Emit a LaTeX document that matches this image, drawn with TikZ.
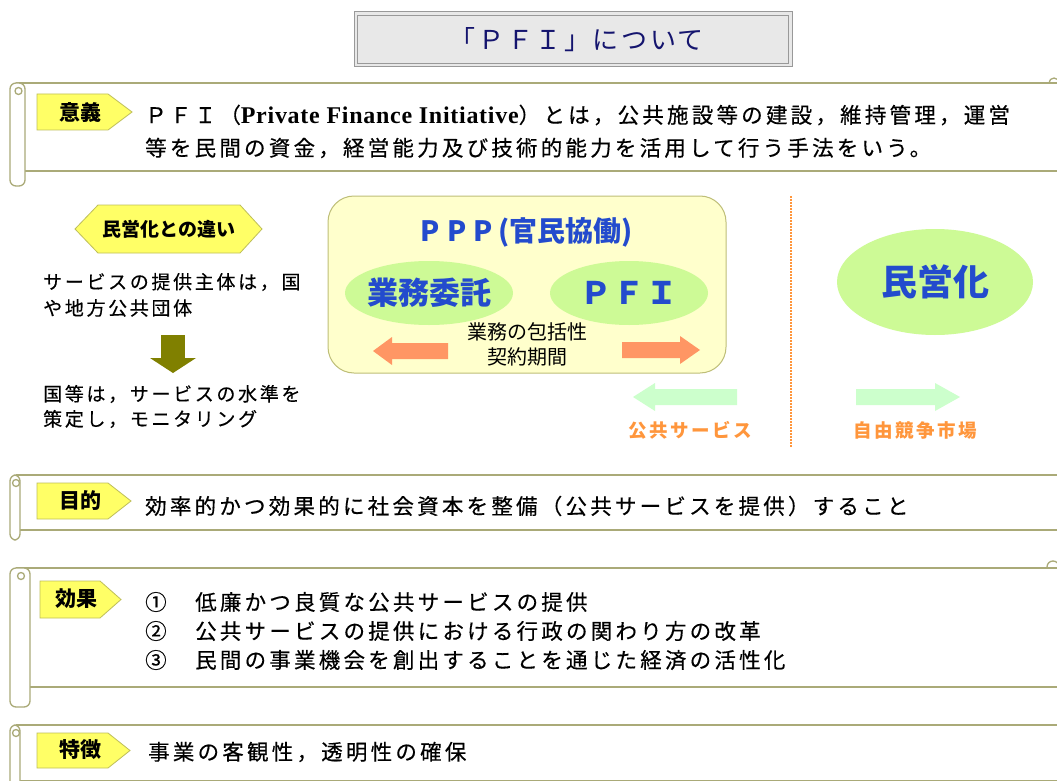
\documentclass[tikz,border=0pt]{standalone}
\usepackage{fontspec}
\setmainfont{Noto Sans CJK JP}
\newfontfamily\jp{Noto Sans CJK JP}[LetterSpace=15, FakeBold=0.4]
\newfontfamily\jpm{Noto Sans CJK JP}[LetterSpace=10]
\newfontfamily\jps{Noto Sans CJK JP}[LetterSpace=14, FakeBold=0.3]
\newfontfamily\jpo{Noto Sans CJK JP}[LetterSpace=13]
\newfontfamily\jpn{Noto Sans CJK JP}
\newfontfamily\lser{Liberation Serif}[LetterSpace=3]
\usetikzlibrary{shapes.geometric}
\definecolor{scrollc}{RGB}{170,170,120}
\definecolor{lab}{RGB}{255,255,102}
\definecolor{labd}{RGB}{190,190,90}
\definecolor{ttl}{RGB}{20,20,110}
\definecolor{pblue}{RGB}{35,75,205}
\definecolor{grn}{RGB}{205,250,150}
\definecolor{pppf}{RGB}{255,255,204}
\definecolor{pppd}{RGB}{190,190,120}
\definecolor{orar}{RGB}{255,150,100}
\definecolor{lgr}{RGB}{204,255,204}
\definecolor{otx}{RGB}{255,150,60}
\definecolor{olv}{RGB}{128,128,0}
\newcommand{\myscroll}[5]{%
  \draw[scrollline] (#1+6,#3) -- (1070,#3);
  \draw[scrollline] (#2,#4) -- (1070,#4);
  \draw[scrollline, fill=white, rounded corners=6] (#1,#3) rectangle (#2,#5);
  \draw[scrollline] ({(#1+#2)/2+1},{#3+8}) circle (3.5);
}
\begin{document}
\begin{tikzpicture}[x=1pt,y=-1pt,
  scrollline/.style={draw=scrollc, line width=1.3pt},
  labbox/.style={draw=labd, fill=lab, line width=0.8pt},
  labtxt/.style={inner sep=0, font=\jpn\bfseries\fontsize{21}{24}\selectfont},
  body/.style={anchor=west, inner sep=0, font=\jp\fontsize{21.5}{24}\selectfont},
  small/.style={anchor=west, inner sep=0, font=\jps\fontsize{19}{22}\selectfont},
  bluet/.style={inner sep=0, text=pblue},
  ell/.style={ellipse, fill=grn, draw=none, inner sep=0},
  otext/.style={inner sep=0, text=otx, font=\jpo\bfseries\fontsize{18.5}{20}\selectfont}
]
\useasboundingbox (0,0) rectangle (1057,781);
\clip (0,0) rectangle (1057,781);
\fill[white] (0,0) rectangle (1057,781);

% title
\draw[draw=gray!80, fill=black!9, line width=1pt] (354,12) rectangle (792,67);
\draw[draw=gray!80, line width=1pt] (357.5,15.5) rectangle (788.5,63.5);
\node[inner sep=0, text=ttl, font=\jpm\fontsize{26}{28}\selectfont] (title) at (577,40) {「ＰＦＩ」について};

% scrolls
\myscroll{10}{25}{83}{171}{186}
\draw[scrollline] (1049,83) arc[start angle=180,end angle=360,radius=5];
\myscroll{10}{20}{475}{530}{540}
\myscroll{10}{30}{568}{687}{707}
\draw[scrollline] (1047,567) arc[start angle=180,end angle=360,radius=6];
\myscroll{10}{20}{725}{781}{800}

% labels
\draw[labbox] (37,94) -- (108,94) -- (132,112) -- (108,130) -- (37,130) -- cycle;
\node[labtxt] (l1) at (80,112) {意義};
\draw[labbox] (37,483) -- (108,483) -- (131,501) -- (108,519) -- (37,519) -- cycle;
\node[labtxt] (l2) at (80,501) {目的};
\draw[labbox] (40,581) -- (100,581) -- (121,599.5) -- (100,618) -- (40,618) -- cycle;
\node[labtxt] (l3) at (76,599) {効果};
\draw[labbox] (37,733) -- (108,733) -- (130,750.5) -- (108,768) -- (37,768) -- cycle;
\node[labtxt] (l4) at (80,750) {特徴};

% texts
\node[body] (ig1) at (145,115) {ＰＦＩ（{\lser\bfseries\fontsize{24}{26}\selectfont Private Finance Initiative}）とは，公共施設等の建設，維持管理，運営};
\node[body] (ig2) at (145,148) {等を民間の資金，経営能力及び技術的能力を活用して行う手法をいう。};
\node[body] (mt) at (145,506) {効率的かつ効果的に社会資本を整備（公共サービスを提供）すること};
\node[body] (n1) at (145,602) {①};
\node[body] (k1) at (195,602) {低廉かつ良質な公共サービスの提供};
\node[body] (n2) at (145,631) {②};
\node[body] (k2) at (195,631) {公共サービスの提供における行政の関わり方の改革};
\node[body] (n3) at (145,660) {③};
\node[body] (k3) at (195,660) {民間の事業機会を創出することを通じた経済の活性化};
\node[body] (tc) at (148,752) {事業の客観性，透明性の確保};

% left column
\draw[labbox] (75,229) -- (98,205) -- (240,205) -- (262,229) -- (240,253) -- (98,253) -- cycle;
\node[inner sep=0, font=\jpn\bfseries\fontsize{19}{22}\selectfont] (hx) at (169,229) {民営化との違い};
\node[small] (d1) at (43,282) {サービスの提供主体は，国};
\node[small] (d2) at (43,308) {や地方公共団体};
\fill[olv] (161,335) rectangle (185,358);
\fill[olv] (150,358) -- (196,358) -- (173,373) -- cycle;
\node[small] (d3) at (43,394) {国等は，サービスの水準を};
\node[small] (d4) at (43,419) {策定し，モニタリング};

% PPP box
\draw[draw=pppd, fill=pppf, line width=1pt, rounded corners=26] (328,196) rectangle (726,373);
\node[bluet, font=\jpn\bfseries\fontsize{28}{30}\selectfont] (ppp) at (527,232) {P\hspace{7pt}P\hspace{7pt}P\hspace{6pt}(官民協働)};
\node[ell, minimum width=168pt, minimum height=64pt] (e1) at (429,293) {};
\node[bluet, font=\jpn\bfseries\fontsize{31}{32}\selectfont] (t1) at (e1) {業務委託};
\node[ell, minimum width=158pt, minimum height=64pt] (e2) at (629,293) {};
\node[bluet, font=\jpn\bfseries\fontsize{31}{32}\selectfont] (t2) at (e2) {Ｐ\hspace{2pt}Ｆ\hspace{2pt}Ｉ};
\node[inner sep=0, font=\jpn\fontsize{20}{22}\selectfont] (c1) at (527,332) {業務の包括性};
\node[inner sep=0, font=\jpn\fontsize{20}{22}\selectfont] (c2) at (527,357) {契約期間};
\fill[orar] (373,351) -- (392,337) -- (392,343) -- (448,343) -- (448,359) -- (392,359) -- (392,365) -- cycle;
\fill[orar] (700,350) -- (680,336) -- (680,342) -- (622,342) -- (622,358) -- (680,358) -- (680,364) -- cycle;

% right part
\draw[otx, line width=2.5pt, dash pattern=on 2pt off 1pt] (791,196) -- (791,447);
\node[ell, minimum width=196pt, minimum height=106pt] (e3) at (935,282) {};
\node[bluet, font=\jpn\bfseries\fontsize{36}{38}\selectfont] (t3) at (e3) {民営化};
\fill[lgr] (633,397) -- (655,383) -- (655,389) -- (737,389) -- (737,405) -- (655,405) -- (655,411) -- cycle;
\fill[lgr] (960,397) -- (935,383) -- (935,389) -- (856,389) -- (856,405) -- (935,405) -- (935,411) -- cycle;
\node[otext] (o1) at (690,430) {公共サービス};
\node[otext] (o2) at (915,430) {自由競争市場};
\end{tikzpicture}
\end{document}
